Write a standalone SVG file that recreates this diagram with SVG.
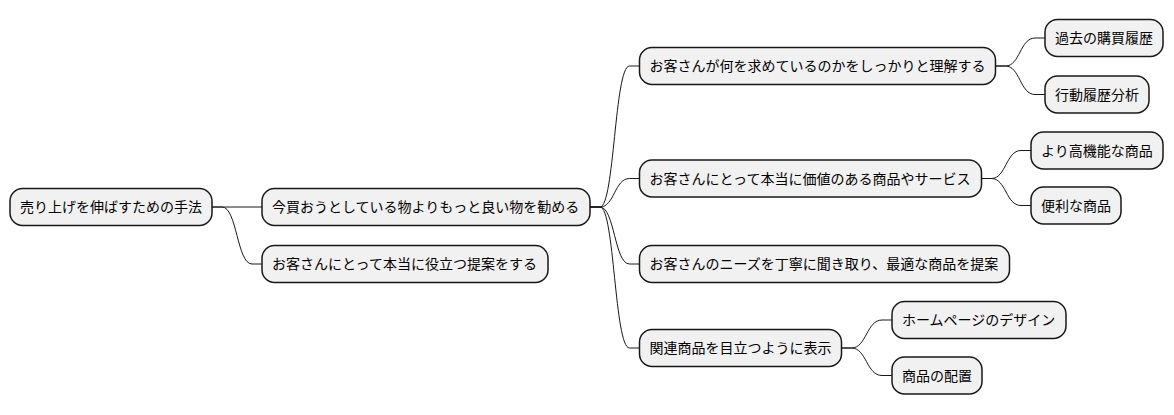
<svg xmlns="http://www.w3.org/2000/svg" width="1174" height="415" viewBox="0 0 1174 415">
<style>
.n rect{fill:#F1F1F1;stroke:#181818;stroke-width:1.5}
.n text{font-family:"Noto Sans CJK JP","Noto Sans",sans-serif;font-size:14px;fill:#000000}
.c path{fill:none;stroke:#181818;stroke-width:1}
</style>
<rect width="1174" height="415" fill="#FFFFFF"/>
<g class="c">
<path d="M212,207 L262,207"/>
<path d="M212,207 L222,207 C237,207 237,264 252,264 L262,264"/>
<path d="M590,207 L600,207 C614.5,207 614.5,66 629.5,66 L639.5,66"/>
<path d="M590,207 L600,207 C614.5,207 614.5,178.5 629.5,178.5 L639.5,178.5"/>
<path d="M590,207 L600,207 C614.5,207 614.5,264 629.5,264 L639.5,264"/>
<path d="M590,207 L600,207 C614.5,207 614.5,348 629.5,348 L639.5,348"/>
<path d="M995.5,66 L1005.5,66 C1020,66 1020,38 1035,38 L1045,38"/>
<path d="M995.5,66 L1005.5,66 C1020,66 1020,94.5 1035,94.5 L1045,94.5"/>
<path d="M981.5,178.5 L991.5,178.5 C1006,178.5 1006,150.5 1021,150.5 L1031,150.5"/>
<path d="M981.5,178.5 L991.5,178.5 C1006,178.5 1006,205.5 1021,205.5 L1031,205.5"/>
<path d="M841.5,348 L851.5,348 C866.5,348 866.5,320 882,320 L892,320"/>
<path d="M841.5,348 L851.5,348 C866.5,348 866.5,375.5 882,375.5 L892,375.5"/>
</g>
<g id="root" class="n"><rect x="10" y="188.5" width="202" height="37" rx="12.5"/><text x="20" y="212">売り上げを伸ばすための手法</text></g>
<g id="n1" class="n"><rect x="262" y="188.5" width="328" height="37" rx="12.5"/><text x="272" y="212">今買おうとしている物よりもっと良い物を勧める</text></g>
<g id="n2" class="n"><rect x="262" y="245.5" width="286" height="37" rx="12.5"/><text x="272" y="269">お客さんにとって本当に役立つ提案をする</text></g>
<g id="n11" class="n"><rect x="639.5" y="47.5" width="356" height="37" rx="12.5"/><text x="649.5" y="71">お客さんが何を求めているのかをしっかりと理解する</text></g>
<g id="n12" class="n"><rect x="639.5" y="160" width="342" height="37" rx="12.5"/><text x="649.5" y="183.5">お客さんにとって本当に価値のある商品やサービス</text></g>
<g id="n13" class="n"><rect x="639.5" y="245.5" width="370" height="37" rx="12.5"/><text x="649.5" y="269">お客さんのニーズを丁寧に聞き取り、最適な商品を提案</text></g>
<g id="n14" class="n"><rect x="639.5" y="329.5" width="202" height="37" rx="12.5"/><text x="649.5" y="353">関連商品を目立つように表示</text></g>
<g id="n111" class="n"><rect x="1045" y="19.5" width="118" height="37" rx="12.5"/><text x="1055" y="43">過去の購買履歴</text></g>
<g id="n112" class="n"><rect x="1045" y="76" width="104" height="37" rx="12.5"/><text x="1055" y="99.5">行動履歴分析</text></g>
<g id="n121" class="n"><rect x="1031" y="132" width="132" height="37" rx="12.5"/><text x="1041" y="155.5">より高機能な商品</text></g>
<g id="n122" class="n"><rect x="1031" y="187" width="90" height="37" rx="12.5"/><text x="1041" y="210.5">便利な商品</text></g>
<g id="n141" class="n"><rect x="892" y="301.5" width="174" height="37" rx="12.5"/><text x="902" y="325">ホームページのデザイン</text></g>
<g id="n142" class="n"><rect x="892" y="357" width="90" height="37" rx="12.5"/><text x="902" y="380.5">商品の配置</text></g>
</svg>
